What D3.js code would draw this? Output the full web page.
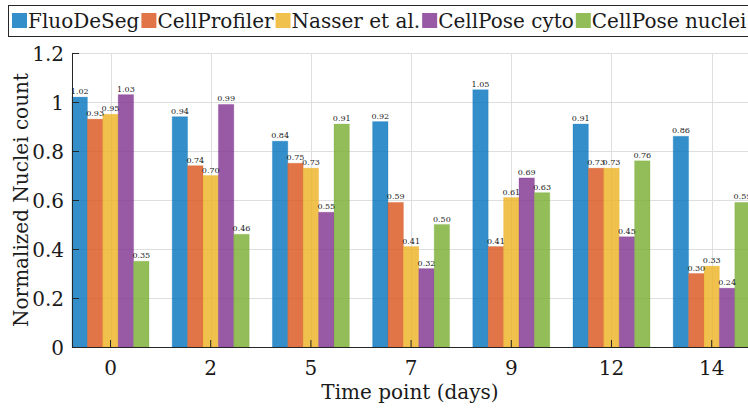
<!DOCTYPE html>
<html>
<head>
<meta charset="utf-8">
<script src="https://cdn.jsdelivr.net/npm/d3@7"></script>
<style>
  body { margin: 0; background: #fff; }
  svg { display: block; font-family: "DejaVu Serif", serif; }
</style>
</head>
<body>
<svg id="chart" width="748" height="411"></svg>
<script>
// time points (x categories)
const timePoints = ["0", "2", "5", "7", "9", "12", "14"];
const methods = ["FluoDeSeg", "CellProfiler", "Nasser et al.", "CellPose cyto", "CellPose nuclei"];

// normalized nuclei count per method
const fluoDeSeg = [1.02, 0.94, 0.84, 0.92, 1.05, 0.91, 0.86];
const cellProfiler = [0.93, 0.74, 0.75, 0.59, 0.41, 0.73, 0.30];
const nasser = [0.95, 0.70, 0.73, 0.41, 0.61, 0.73, 0.33];
const cellPoseCyto = [1.03, 0.99, 0.55, 0.32, 0.69, 0.45, 0.24];
const cellPoseNuclei = [0.35, 0.46, 0.91, 0.50, 0.63, 0.76, 0.59];

const yTicks = [0, 0.2, 0.4, 0.6, 0.8, 1, 1.2];
const colors = ["#0072BD", "#D95319", "#EDB120", "#7E2F8E", "#77AC30"];

const seriesValues = [fluoDeSeg, cellProfiler, nasser, cellPoseCyto, cellPoseNuclei];

function drawChart() {
  var svg = d3.select("#chart");
  var left = 72, bottom = 347, plotTop = 53, right = 750.2;

  //group scale, first group touches the y axis (tight limits)
  var x = d3.scaleBand().domain(timePoints).range([left, right]).paddingInner(0.2315).paddingOuter(0);
  var xs = d3.scaleBand().domain(methods).range([0, x.bandwidth()]).padding(0);
  var y = d3.scaleLinear().domain([0, 1.2]).range([bottom, plotTop]);

  var grid = svg.append("g").attr("stroke", "#dedede").attr("stroke-width", 1);
  grid.selectAll("line.h").data(yTicks.slice(1)).enter().append("line")
    .attr("x1", left).attr("x2", 748)
    .attr("y1", d => Math.round(y(d)) + 0.5).attr("y2", d => Math.round(y(d)) + 0.5);
  grid.selectAll("line.v").data(timePoints).enter().append("line")
    .attr("x1", d => Math.round(x(d) + x.bandwidth() / 2) + 0.5)
    .attr("x2", d => Math.round(x(d) + x.bandwidth() / 2) + 0.5)
    .attr("y1", plotTop).attr("y2", bottom);

  //bars
  var groups = svg.append("g").selectAll("g")
    .data(timePoints).enter().append("g")
    .attr("transform", d => "translate(" + x(d) + ",0)");

  var rows = (d, i) => methods.map((m, j) => ({ m: m, j: j, v: seriesValues[j][i] }));

  groups.selectAll("rect")
    .data(rows)
    .enter().append("rect")
    .attr("x", d => xs(d.m))
    .attr("width", xs.bandwidth())
    .attr("y", d => y(d.v))
    .attr("height", d => bottom - y(d.v))
    .attr("fill", d => colors[d.j])
    .attr("fill-opacity", 0.8)
    .attr("stroke", d => colors[d.j])
    .attr("stroke-opacity", 0.25)
    .attr("stroke-width", 1);

  //value labels above each bar
  groups.selectAll("text")
    .data(rows)
    .enter().append("text")
    .attr("x", d => xs(d.m) + xs.bandwidth() / 2)
    .attr("y", d => y(d.v) - 3)
    .attr("text-anchor", "middle")
    .attr("font-size", 8)
    .attr("fill", "#1a1a1a")
    .text(d => d.v.toFixed(2));

  //axes
  var axisColor = "#262626";
  var xAxis = svg.append("g").attr("transform", "translate(0," + bottom + ")")
    .call(d3.axisBottom(x).tickSizeInner(-7).tickSizeOuter(0).tickPadding(14));
  var yAxis = svg.append("g").attr("transform", "translate(" + left + ",0)")
    .call(d3.axisLeft(y).tickValues(yTicks).tickFormat(d3.format("~g")).tickSizeInner(-7).tickSizeOuter(0).tickPadding(8));
  [xAxis, yAxis].forEach(a => {
    a.select(".domain").attr("stroke", axisColor);
    a.selectAll(".tick line").attr("stroke", axisColor);
    a.selectAll(".tick text").attr("fill", "#1a1a1a").attr("font-size", 20).attr("font-family", "DejaVu Serif");
  });
  yAxis.selectAll(".tick text").attr("dy", "0.35em");

  svg.append("text")
    .attr("x", 410).attr("y", 399)
    .attr("text-anchor", "middle").attr("font-size", 20).attr("fill", "#1a1a1a")
    .text("Time point (days)");

  svg.append("text")
    .attr("transform", "translate(28,200) rotate(-90)")
    .attr("text-anchor", "middle").attr("font-size", 20).attr("fill", "#1a1a1a")
    .text("Normalized Nuclei count");

  //legend, one row, runs past the right edge
  var legend = svg.append("g");
  legend.append("rect")
    .attr("x", 8.5).attr("y", 5.5).attr("width", 760).attr("height", 31)
    .attr("fill", "#fff").attr("stroke", "#262626").attr("stroke-width", 1);
  var lx = 12;
  methods.forEach((m, j) => {
    legend.append("rect")
      .attr("x", lx).attr("y", 13).attr("width", 15).attr("height", 15)
      .attr("fill", colors[j]).attr("fill-opacity", 0.8);
    var t = legend.append("text")
      .attr("x", lx + 16).attr("y", 28)
      .attr("font-size", 20).attr("fill", "#1a1a1a")
      .text(m);
    lx += 16 + t.node().getComputedTextLength() + 2;
  });
}

drawChart();
</script>
</body>
</html>
